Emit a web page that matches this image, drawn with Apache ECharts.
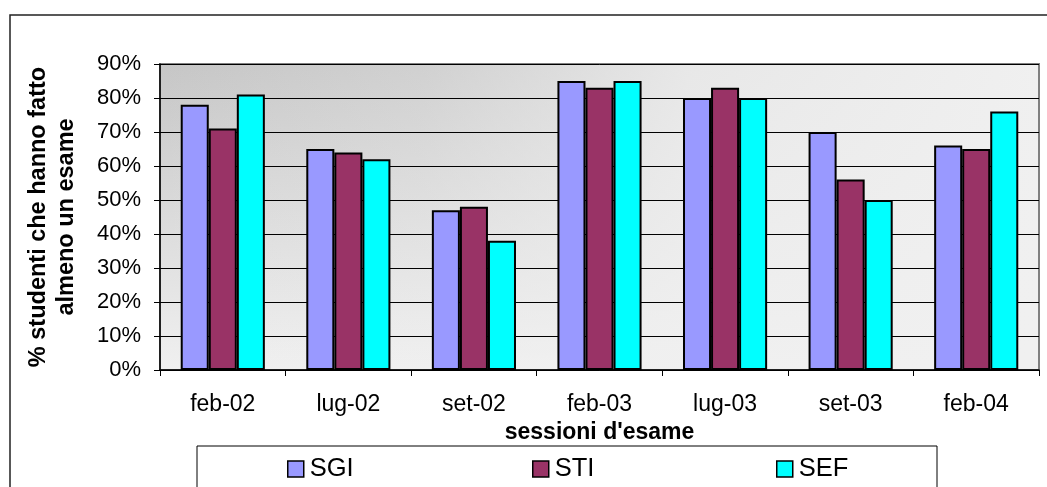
<!DOCTYPE html>
<html>
<head>
<meta charset="utf-8">
<script src="https://cdn.jsdelivr.net/npm/echarts@6/dist/echarts.min.js"></script>
<style>
html,body{margin:0;padding:0;background:#fff;}
#chart{width:1047px;height:487px;}
</style>
</head>
<body>
<div id="chart"></div>
<script>
var categories = ['feb-02','lug-02','set-02','feb-03','lug-03','set-03','feb-04'];
var seriesNames = ['SGI','STI','SEF'];
var sgiValues = [78, 65, 47, 85, 80, 70, 66];
var stiValues = [71, 64, 48, 83, 83, 56, 65];
var sefValues = [81, 62, 38, 85, 80, 50, 76];
var yTicks = {min: 0, max: 90, interval: 10};
var colors = ['#9999FF', '#993366', '#00FFFF'];

var FONT = '"Liberation Sans", Arial, sans-serif';
var G = {left: 160, top: 64, right: 8, bottom: 117};
var W = 1047, H = 487;
var gw = W - G.left - G.right, gh = H - G.top - G.bottom;

var chart = echarts.init(document.getElementById('chart'), null, {renderer: 'canvas'});

function mkLegend(name, left) {
  return {
    data: [name], left: left, top: 456, orient: 'horizontal',
    icon: 'rect', itemWidth: 16, itemHeight: 16, itemGap: 0,
    itemStyle: {borderColor: '#000', borderWidth: 1.5},
    textStyle: {fontFamily: FONT, fontSize: 25.5, color: '#000', padding: [0,0,0,1]},
    padding: 0
  };
}

var allValues = [sgiValues, stiValues, sefValues];

chart.setOption({
  animation: false,
  backgroundColor: '#fff',
  textStyle: {fontFamily: FONT},
  grid: {left: G.left, top: G.top, right: G.right, bottom: G.bottom, show: true,
         borderColor: '#808080', borderWidth: 2, backgroundColor: 'transparent'},
  graphic: [
    {type: 'rect', z: -20, shape: {x: 10, y: 15, width: 1100, height: 600},
     style: {fill: '#fff', stroke: '#222', lineWidth: 1.5}},
    {type: 'rect', z: -12, shape: {x: G.left, y: G.top, width: gw, height: gh},
     style: {fill: new echarts.graphic.LinearGradient(0, 0, 0, 1, [
       {offset: 0, color: '#c6c6c6'}, {offset: 1, color: '#f0f0f0'}])}},
    {type: 'rect', z: -11, shape: {x: G.left, y: G.top, width: gw, height: gh},
     style: {fill: new echarts.graphic.LinearGradient(0, 0, 1, 0, [
       {offset: 0, color: 'rgba(240,240,240,0)'},
       {offset: 0.3, color: 'rgba(240,240,240,0.25)'},
       {offset: 0.6, color: 'rgba(240,240,240,0.8)'},
       {offset: 1, color: 'rgba(240,240,240,1)'}])}},
    {type: 'rect', z: -5, shape: {x: 197, y: 446, width: 740, height: 80},
     style: {fill: '#fff', stroke: '#000', lineWidth: 1}}
  ],
  legend: [mkLegend('SGI', 287), mkLegend('STI', 532), mkLegend('SEF', 776)],
  xAxis: {
    type: 'category', data: categories,
    axisLine: {show: true, lineStyle: {color: '#000', width: 1.5}},
    axisTick: {show: true, alignWithLabel: false, length: 6, lineStyle: {color: '#000'}},
    axisLabel: {color: '#000', fontSize: 23, fontFamily: FONT, margin: 23},
    name: "sessioni d'esame", nameLocation: 'middle', nameGap: 46,
    nameTextStyle: {color: '#000', fontSize: 23, fontWeight: 'bold', fontFamily: FONT}
  },
  yAxis: {
    type: 'value', min: yTicks.min, max: yTicks.max, interval: yTicks.interval,
    axisLine: {show: true, lineStyle: {color: '#000', width: 1.5}},
    axisTick: {show: true, length: 6, lineStyle: {color: '#000'}},
    axisLabel: {color: '#000', fontSize: 22, fontFamily: FONT, margin: 19, formatter: '{value}%'},
    splitLine: {show: true, lineStyle: {color: '#000', width: 1}},
    name: '% studenti che hanno fatto\nalmeno un esame', nameLocation: 'middle', nameGap: 79,
    nameTextStyle: {color: '#000', fontSize: 23.5, fontWeight: 'bold', fontFamily: FONT, lineHeight: 28}
  },
  series: seriesNames.map(function (n, i) {
    return {
      name: n, type: 'bar', data: allValues[i],
      barGap: '0%', barCategoryGap: '33%',
      itemStyle: {color: colors[i], borderColor: '#000', borderWidth: 2}
    };
  })
});
</script>
</body>
</html>
